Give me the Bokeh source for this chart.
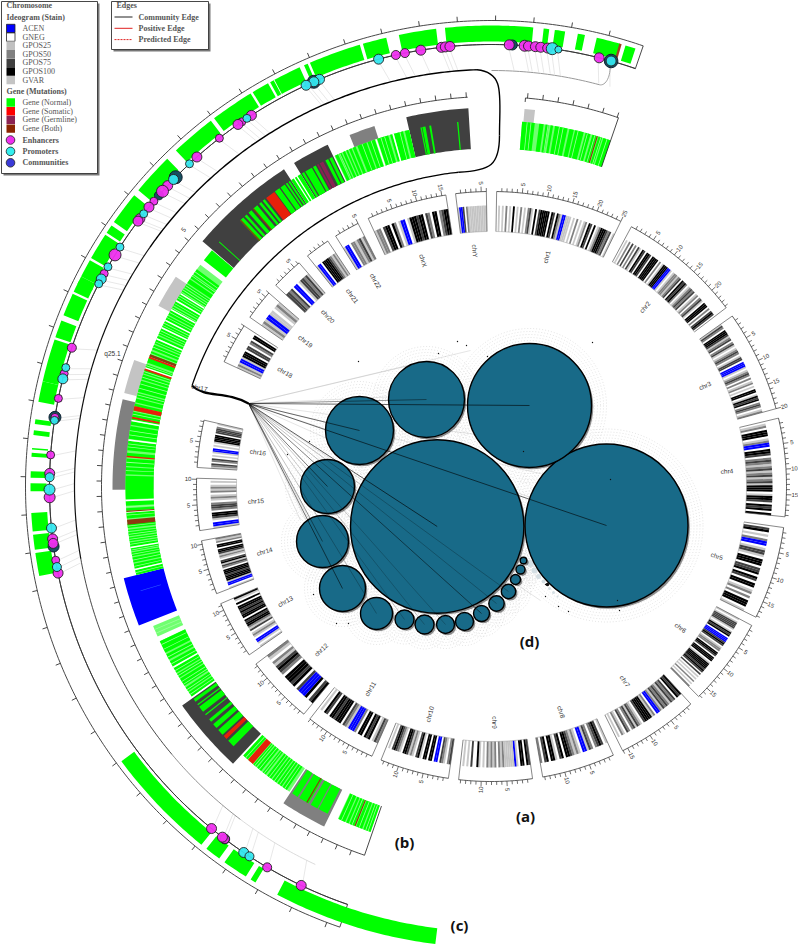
import numpy as np
from bokeh.plotting import figure
from bokeh.models import Range1d
from bokeh.core.properties import value
from bokeh.embed import file_html
from bokeh.resources import INLINE

# ---------- data ----------
chrom_names = ["chr1","chr2","chr3","chr4","chr5","chr6","chr7","chr8","chr9","chr10","chr11","chr12",
               "chr13","chr14","chr15","chr16","chr18","chr19","chr20","chr21","chr22","chrX","chrY"]
chrom_start = [1,28.3,54.7,76.6,98,118.1,137.5,155.6,172,188.4,203.9,219.5,235.2,248.7,261.4,273.7,295,305,313,321.4,328.1,335.3,353]
chrom_end = [26,52.7,74.7,95.9,116.3,135.4,153.6,170,186.4,202,218,233,246.6,259.4,271.6,283,303,311,319.3,326.3,333.1,351.1,359]
chrom_stains = [
 "wlwlwmwlwkwlwmwlwmdlwkwdkkkkkwkdwkmlbbvvlwlwmwlwlmwkdwkwlmkkkdmdwl",
 "wlwmwdwmwdlwkdwkkdwkkkkwmwlkkkbblwlmmlmdwkdkmwlmdmdwlmwmdlwkkkwmwdkdw",
 "ldmwkkkdlmdwmdlwlmdmwlddwbbblwlmdmwmwlmwlwkkwlkdkwmdmwlm",
 "wlmwkkkwlmbbwkkdwmdmlmdlmdlmdlkkkwlkkdwkdkwk",
 "wdkwlwmbbwlddlwkkkwddkwkdwkkwlmwmwkkkwl",
 "lwlddddlwlkdkwbbbdkdwlmmwkkdwkkkwlkkkkdkdwdwlwlwmwlwm",
 "kdkwdmdlmdmdlmbbwmlkkkkdwlmdldmwmdwlmwlw",
 "lwdkdmwmdlbbwlmlmdkkwkdwlkkwkdwm",
 "dkwkkwlbvvvvvmlmwmlmlmwlwlkwwdwlwlw",
 "dmwlmdwbbwkkwkkwlkdwlmldkkwlmdkdwlw",
 "mdlwkdkwkkwmbbblmdwkkkdkkwdkwlw",
 "kdwkbbbdwkdkkkwmdkdlmwlm",
 "lwlbbwlmlwdlmkkdkwkkdkdkkwkwlk",
 "lwbblkkkdkkkwmdlkdwlmldkkwkkwmlm",
 "lbbwldkkwmddmwlmlwmlmlwlw",
 "lmdwmdwlwlbbwlwlkkkkwdddmwl",
 "lmlbblkkkwddwmdwkkw",
 "lmlbbllwlml",
 "ddmdwbbwlddmdl",
 "lbbwkkkkdmlml",
 "lbbwmmlmdlm",
 "lmmwdkkwkmwlbbwlkkkdkkwdmwkkwmdkk",
 "lbbdwmlvvvvvvvvvv",
]
stain_colors = {"l":"#c8c8c8","m":"#808080","d":"#404040","k":"#000000","b":"#0000ff","v":"#c4c4c4"}

band_b_start = [5,-3.5,-18,-25.6,-33.2,-56.4,-70.5,-76.7,-104,-125.3,-146.7]
band_b_end = [6.6,-13,-22,-31.4,-49.7,-61.5,-75.7,-90.5,-111.5,-137,-153.8]
band_b_color = ["#c4c4c4","#404040","#808080","#404040","#404040","#c4c4c4","#c4c4c4","#808080","#0000ff","#404040","#808080"]

pale_start = [4.8,-13,-52.7,-112.4,-115,-137.3,-155.2]
pale_end = [19,-25.4,-103.9,-114.2,-125,-146.5,-160.7]

gene_b_start = [4.8,7.5,8.5,9.3,10,12.3,13.2,14.9,16,17,17.8,-5.2,-9.5,-10.4,-11,-13,-14,-15.7,-16.4,-18.6,-20,-21.8,-22.5,-23.1,-23.6,-24.2,-24.8,
 -25.8,-26.5,-28.7,-29.4,-30.8,-31.4,-32.2,-32.7,-33.4,-33.9,-34.4,-35.4,-38.3,-39,-39.8,-41,-42,-42.7,-48,-49.8,
 -53.6,-54.7,-55.5,-56.4,-57.2,-58,-59.6,-60.5,-61.2,-62.2,-63.1,-64.4,-65.7,-66.3,-67.2,-68.3,-68.8,-69.4,-70.5,-71.3,-72.2,-73.2,-75.2,-76.1,-76.9,-78.2,-79.7,-80.5,-82.8,-84.7,-85.6,-87,-88.3,-92.3,-93.4,-94.1,-95.9,-96.8,-97.2,-98,-98.8,-99.7,-100.4,-101.2,-102.2,-103.2,
 -115,-117.3,-118.5,-119.7,-120.8,-121.7,-123.3,-124.2,-125.5,-126.5,-127,-128.5,-129.5,-130.5,-131.7,-134,-137.3,-139.4,-140.2,-141.3,-142.2,-143.2,-144.2,-145.2,-147,-148.3,-150.4,-151.8,-155.3,-156.6,-157.2,-158.3,-159.5]
gene_b_end = [6.8,8.2,9,9.7,12,13,14.6,15.7,16.7,17.6,19,-5.4,-9.8,-10.9,-11.2,-13.7,-15.5,-16.1,-18.2,-19.8,-21.5,-22.3,-22.9,-23.4,-24,-24.6,-25.3,
 -26.3,-27,-29.2,-30.6,-31.2,-32,-32.5,-33.2,-33.7,-34.2,-35.2,-36.3,-38.7,-39.4,-40.6,-41.6,-42.4,-43.4,-48.15,-51.8,
 -54.5,-55.3,-56.2,-57,-57.8,-59.4,-60.3,-61,-62,-62.9,-64.2,-65.5,-66.1,-67,-68,-68.6,-69.2,-70.2,-71,-72,-73,-75,-75.9,-76.7,-78,-79.5,-80.3,-82.5,-84.3,-85.3,-86.8,-88.1,-92,-93,-93.8,-95,-96.5,-97,-97.8,-98.6,-99.5,-100.2,-101,-102,-103,-104,
 -117,-118.2,-119.5,-120.6,-121.5,-123,-124,-125,-126,-126.7,-128,-128.7,-130,-131.3,-132.7,-135.2,-138.2,-140,-141,-141.9,-143,-144,-145,-146,-148,-150,-151.6,-153.4,-156.4,-157,-158,-159.3,-160.7]

white_b = [-15.6,-18.4,-52.2,-58.2,-59.5,-61.1,-63,-64.3,-66.2,-69.3,-71.1,-79.6,-82.7,-92.2,-94,-95.7,-99.6,-103.1,-114.6,-119.6,-154.5]
fine_b = [5.6,6.2,8.9,10.7,11.3,13.7,15.2,16.4,17.4,18.4,-14.5,-17,-17.6,-19.2,-20.7,-24.5,-54.1,-54.9,-56.7,-57.5,-58.6,-59,-60,-60.8,-61.6,-62.5,-63.5,-63.9,-64.8,-65.2,-66.7,-67.6,-70.7,-71.7,-72.6,-73.7,-74.4,-75.5,-77.4,-78.6,-79.1,-81.2,-81.9,-83.3,-83.8,-86.2,-87.5,-93.2,-94.5,-96.2,-97.5,-98.3,-99.1,-100,-100.7,-101.6,-102.6,-103.6,-113,-113.6,-115.6,-116.4,-117.8,-119,-120.2,-121.1,-122.2,-122.7,-123.7,-124.6,-137.8,-139.7,-140.6,-141.6,-142.6,-143.6,-144.6,-145.6,-155.8,-157.6,-158.8,-159.9,-160.3]
somatic_b_start = [-36.4,-71.2,-77.3,-79,-85.2,-133,-138.3,-69.2]
somatic_b_end = [-38,-71.5,-78,-79.3,-85.4,-133.6,-139.3,-69.5]
both_b_start = [16.7,-43.2,-68.8,-93.8,-95.2,-149.6,-158,-40.5]
both_b_end = [16.9,-43.4,-69.2,-94,-96,-149.8,-158.2,-40.7]
germ_b_start = [-27.4,-28.2]
germ_b_end = [-28,-28.5]

gene_c_start = [16.9,13.2,10.8,7.9,6.5,-5.8,-11.6,-13.2,-16.6,-23.5,-24.6,-28.2,-29,-31.5,-37.5,-44.7,-50.8,-55.5,-56.9,-60.6,-62.9,-63.6,-65.3,-68.9,-71.4,-76.8,-81.6,-83,-85.2,-85.8,-88.1,-89.6,-93.3,-96,-98.3,-126.6,-141.8,-144.6,-148.5,-152.3]
gene_c_end = [18.2,16.2,11.7,9.2,7.2,5.2,-6.9,-16.2,-23.2,-24,-28.1,-28.7,-31.2,-37,-43.2,-50,-55,-56.6,-60.3,-62.9,-63.9,-65,-68.2,-71.1,-76.8,-79.4,-82.2,-83.6,-85.4,-86.3,-88.9,-90.6,-95.6,-97.9,-101.2,-141,-143.8,-147.8,-149.2,-173]

enh_theta = [-12.5,-11.3,-9.2,-6.5,-6,-5.4,2.3,4.3,4.8,5.7,6.4,7.3,14.1,-24.4,-32.9,-34.4,-35,-38,-41.8,-47.1,-48.1,-49.8,-50.8,-52.7,-53.1,-58.4,-61.2,-71.7,-75.2,-78.5,-81,-85.9,-88.3,-91.4,-96.8,-97.4,-99.6,-101.3,-140.7,-142.9,-142.5,-149.5,-154.5]
enh_size = [4.5,4.5,5,5,5,5,5,5.5,5,5,5,5,5,4,5,4,5,4,5,5,6,4,5,5,5,6,4,4.5,4,4,4,4,5,5.5,5,5,4,5,5,4.5,5,4.5,5]
prom_theta = [7.9,8.7,15.7,-14.8,-22.9,-23.7,-24.8,-33.6,-43.1,-46,-51.9,-57.2,-60.2,-62,-62.7,-74.4,-75.9,-81.4,-88.8,-90.4,-95.4,-100.5,-145.9,-146.8]
prom_size = [6,3.5,5,5,5,5,5,4,4,5,4,4,4,5,4,4,5,4,4.5,5.5,5,4.5,5,4.5]
comm_theta = [2.7,15.7,-23.7,-45.6,-48.8,-81,-97.8,-142.9]
comm_size = [5,6.8,6.5,6.5,4.5,6,5.5,4.8]

comm_x = [606,436.7,529,426,359,327,322,342,376,404,424,445,464,481,496,508,515,520,523]
comm_y = [525,526,405,399,430,486,541,588,613,619,624,624,621,613,603,591,579,569,560]
comm_r = [81.5,86.7,62,38,34,27,26,23,16,9.5,9.5,9,9,8,7.7,7.2,5,4.5,3.3]
pale_x = [530,534,538,543,549,553,557]
pale_y = [563,570,576,581,588,592,596]
pale_r = [3.5,3,2.5,2,1.5,1.5,1]
dot_x = [545,592,438,358,309,287,313,336,389,348,545,487,617,619,523,466,457,610,558,568]
dot_y = [584,342,353,361,441,454,594,623,603,623,596,356,600,610,451,345,341,479,606,611]
link_target_x = [529,426,359,436.7,606,327,322,342,376,481,496,508,404,424,445]
link_target_y = [405,399,430,526,525,486,541,588,613,613,603,591,619,624,624]
link_alpha = [.85,.6,.8,.9,.85,.75,.6,.8,.35,.7,.35,.35,.3,.3,.3]
faint_x = [430,470,420,520,610,540,330,300,345,540,600]
faint_y = [360,350,395,440,490,500,560,520,600,600,560]

legend_stain_names = ["ACEN","GNEG","GPOS25","GPOS50","GPOS75","GPOS100","GVAR"]
legend_stain_cols = ["#0000ff","#ffffff","#c0c0c0","#808080","#404040","#000000","#c4c4c4"]
legend_gene_names = ["Gene (Normal)","Gene (Somatic)","Gene (Germline)","Gene (Both)"]
legend_gene_cols = ["#00ff00","#ff0000","#8b2252","#8b2500"]
legend_dot_names = ["Enhancers","Promoters","Communities"]
legend_dot_cols = ["#ee2fee","#33eeee","#3a3ad8"]
edge_names = ["Community Edge","Positive Edge","Predicted Edge"]
edge_cols = ["#222222","#e02020","#e02020"]
edge_dash = ["solid","solid","2 1"]

# ---------- geometry ----------
CX, CY = 491.0, 486.0
SERIF = value("Liberation Serif")
SANS = value("Liberation Sans")

def pol(r, t):
    a = np.radians(t)
    return CX + r*np.sin(a), CY - r*np.cos(a)

def sector(r0, r1, t0, t1):
    n = max(2, int(abs(t1-t0)/0.5)+2)
    ts = np.linspace(t0, t1, n)
    x1, y1 = pol(r1, ts)
    x0, y0 = pol(r0, ts[::-1])
    return list(x1)+list(x0), list(y1)+list(y0)

def add_sectors(p, r0, r1, starts, ends, color, alpha=1.0):
    xs, ys = [], []
    for a, b in zip(starts, ends):
        x, y = sector(r0, r1, a, b)
        xs.append(x); ys.append(y)
    p.patches(xs, ys, fill_color=color, line_color=None, fill_alpha=alpha)

def arc(p, r, t0, t1, color="#333333", width=0.9, alpha=1.0):
    ts = np.linspace(t0, t1, max(2, int(abs(t1-t0)/0.5)+2))
    x, y = pol(r, ts)
    p.line(x, y, line_color=color, line_width=width, line_alpha=alpha)

def radial(p, t, r0, r1, color="#333333", width=0.9):
    x0, y0 = pol(r0, t); x1, y1 = pol(r1, t)
    p.line([x0, x1], [y0, y1], line_color=color, line_width=width)

def text_angle(t):
    t = t % 360
    return np.radians(90-t) if t < 180 else np.radians(270-t)

p = figure(x_range=Range1d(0, 798), y_range=Range1d(946, 0), width=798, height=946,
           output_backend="svg", toolbar_location=None, min_border=0)
p.axis.visible = False
p.grid.visible = False
p.outline_line_color = None
p.background_fill_color = "white"

# ---------- (c) outer track: links first ----------
for t in enh_theta + prom_theta:
    x0, y0 = pol(438, t); x1, y1 = pol(417, t + 0.8)
    p.line([x0, x1], [y0, y1], line_color="#d8d8d8", line_width=0.6)

arc(p, 417, -2, -55, "#000000", 1.4)
arc(p, 417, -55, -100, "#111111", 1.2)
arc(p, 417, -100, -130, "#333333", 0.9)
arc(p, 417, -130, -143, "#777777", 0.8)
arc(p, 417, -143, -155, "#cccccc", 0.7)
arc(p, 416, 0, 15, "#999999", 1.0)
xa, ya = pol(416, 15)
xb, yb = pol(438, 15.7)
p.bezier(x0=[xa], y0=[ya], x1=[xb], y1=[yb], cx0=[xa+7], cy0=[ya+2], cx1=[xb+1], cy1=[yb+10],
         line_color="#999999", line_width=0.9)
x0, y0 = pol(417, -2)
p.bezier(x0=[x0], y0=[y0], x1=[499], y1=[135], cx0=[505], cy0=[72], cx1=[499], cy1=[95],
         line_color="#000000", line_width=1.4)
x2, y2 = pol(316, -6)
p.bezier(x0=[499], y0=[135], x1=[x2], y1=[y2], cx0=[499], cy0=[165], cx1=[490], cy1=[170],
         line_color="#000000", line_width=1.4)
arc(p, 316, -6, -71.4, "#000000", 1.3)
x3, y3 = pol(316, -71.4)
p.bezier(x0=[x3], y0=[y3], x1=[248], y1=[403], cx0=[205], cy0=[398], cx1=[225], cy1=[390],
         line_color="#000000", line_width=2.2)

arc(p, 466, 19, -161)
arc(p, 442, 19, -161)
radial(p, 19, 442, 466)
radial(p, -161, 442, 466)
for k in range(-37, 2):
    t = 14.6 + 4.7*k
    if -161 < t < 19:
        radial(p, t, 466, 471)

add_sectors(p, 445, 461, gene_c_start, gene_c_end, "#00ff00")
add_sectors(p, 445, 461, [16.1], [16.4], "#a04020")
arc(p, 442, 19, -161)

x, y = pol(442, np.array(comm_theta))
p.circle(x, y, radius=comm_size, fill_color="#16505f", line_color="#102030", line_width=1)
x, y = pol(442, np.array(enh_theta))
p.circle(x, y, radius=enh_size, fill_color="#ee2fee", line_color="#222222", line_width=0.9, fill_alpha=0.95)
x, y = pol(442, np.array(prom_theta))
p.circle(x, y, radius=prom_size, fill_color="#33e6ee", line_color="#222222", line_width=0.9, fill_alpha=0.95)

# ---------- (b) chr17 track ----------
for a, b, c in zip(band_b_start, band_b_end, band_b_color):
    add_sectors(p, 338, 379, [a], [b], c)
add_sectors(p, 338, 366, pale_start, pale_end, "#70ff70")
add_sectors(p, 338, 366, gene_b_start, gene_b_end, "#00ff00")
add_sectors(p, 338, 366, [w - 0.06 for w in fine_b], [w + 0.06 for w in fine_b], "#a0ffa0")
add_sectors(p, 338, 366, [w - 0.12 for w in white_b], [w + 0.12 for w in white_b], "#ffffff")
add_sectors(p, 338, 366, somatic_b_start, somatic_b_end, "#e8200a")
add_sectors(p, 338, 366, both_b_start, both_b_end, "#8b3a10")
add_sectors(p, 338, 366, germ_b_start, germ_b_end, "#8b2252")
add_sectors(p, 345, 366, [-106.5], [-106.6], "#3060ff")

arc(p, 390, 19, 5)
arc(p, 390, -3.5, -161)
radial(p, 19, 338, 390)
radial(p, -161, 338, 390)
radial(p, 5, 386, 390)
for k in range(-73, 7):
    t = 5.3 + 2.25*k
    if -161 < t < -3.5 or 5 < t < 19:
        radial(p, t, 390, 395)
p.text([112], [353], text=["q25.1"], text_font=SANS, text_font_size="6.5px", text_color="#333333",
       text_align="center", text_baseline="middle")
p.text([183], [229], text=["5"], text_font=SANS, text_font_size="6.5px", text_color="#333333",
       text_align="center", text_baseline="middle", angle=[np.radians(52)])

# ---------- (a) ideogram ----------
for name, t0, t1, st in zip(chrom_names, chrom_start, chrom_end, chrom_stains):
    edges = np.linspace(t0, t1, len(st)+1)
    for code, col in stain_colors.items():
        sa = [edges[i] for i, c in enumerate(st) if c == code]
        sb = [edges[i+1] for i, c in enumerate(st) if c == code]
        if sa:
            add_sectors(p, 255, 281, sa, sb, col)
    arc(p, 295, t0, t1, "#333333", 0.8)
    radial(p, t0, 255, 295, "#555555", 0.7)
    radial(p, t1, 255, 295, "#555555", 0.7)
    arc(p, 255, t0, t1, "#999999", 0.5)
    n = int(t1 - t0)
    for k in range(1, n+1):
        t = t0 + k
        major = k % 5 == 0
        radial(p, t, 295, 300 if major else 298.5, "#333333", 0.7)
        if major:
            xl, yl = pol(303.5, t)
            p.text([xl], [yl], text=[str(k)], text_font=SANS, text_font_size="6px", text_color="#333333",
                   text_align="center", text_baseline="middle", angle=[text_angle(t)])
    xl, yl = pol(236, (t0+t1)/2)
    p.text([xl], [yl], text=[name], text_font=SANS, text_font_size="6.5px", text_color="#333333",
           text_align="center", text_baseline="middle", angle=[text_angle((t0+t1)/2)])

p.text([199], [387], text=["chr17"], text_font=SANS, text_font_size="6.5px", text_color="#333333",
       text_align="center", text_baseline="middle", angle=[np.radians(-12)])

# ---------- (d) community packing ----------
for extra in (3, 6, 9, 12, 15):
    p.circle(comm_x, comm_y, radius=[r + extra for r in comm_r], fill_color=None,
             line_color="#c4c4c4", line_width=0.5, line_dash="1 2")
p.circle(pale_x, pale_y, radius=pale_r, fill_color="#d5dfe4", line_color=None)
for tx, ty in zip(faint_x, faint_y):
    p.line([248, tx], [403, ty], line_color="#999999", line_width=0.5, line_alpha=0.5)
p.circle([x + 1.8 for x in comm_x], [y + 1.8 for y in comm_y], radius=comm_r,
         fill_color="#000000", fill_alpha=0.45, line_color=None)
p.circle(comm_x, comm_y, radius=comm_r, fill_color="#186a88", line_color="#000000", line_width=1.4)
for tx, ty, al in zip(link_target_x, link_target_y, link_alpha):
    p.line([248, tx], [403, ty], line_color="#000000", line_width=0.7, line_alpha=al)
p.circle(dot_x, dot_y, radius=0.7, fill_color="#111111", line_color=None)
p.circle([547], [584], radius=1.8, fill_color="#111111", line_color=None)

# ---------- panel letters ----------
p.text([525, 404, 459, 529], [815, 841, 924, 640], text=["(a)", "(b)", "(c)", "(d)"],
       text_font=value("Open Sans"), text_font_style="bold", text_font_size="15px", text_color="#111111",
       text_align="center", text_baseline="middle")

# ---------- legends ----------
def box(x0, y0, x1, y1):
    p.quad(left=[x0+2], right=[x1+2], top=[y0+2], bottom=[y1+2], fill_color="#555555", fill_alpha=0.8, line_color=None)
    p.quad(left=[x0], right=[x1], top=[y0], bottom=[y1], fill_color="white", line_color="#333333", line_width=0.9)

def ltext(x, y, s, bold=False, color="#555555"):
    p.text([x], [y], text=[s], text_font=SERIF, text_font_size="8px", text_color=color,
           text_font_style="bold" if bold else "normal", text_align="left", text_baseline="middle")

box(1, 1, 97, 173)
ltext(6, 5, "Chromosome", True)
ltext(6, 16.5, "Ideogram (Stain)", True)
for i, (n, c) in enumerate(zip(legend_stain_names, legend_stain_cols)):
    yy = 28 + i*8.6
    p.quad(left=[6], right=[14.5], top=[yy-4.2], bottom=[yy+4.2], fill_color=c, line_color="#222222" if c == "#ffffff" or c == "#0000ff" else None, line_width=0.8)
    ltext(22, yy, n)
ltext(6, 91, "Gene (Mutations)", True)
for i, (n, c) in enumerate(zip(legend_gene_names, legend_gene_cols)):
    yy = 102 + i*8.7
    p.quad(left=[6], right=[14.5], top=[yy-4.2], bottom=[yy+4.2], fill_color=c, line_color=None)
    ltext(22, yy, n)
for i, (n, c) in enumerate(zip(legend_dot_names, legend_dot_cols)):
    yy = 139.5 + i*11.4
    p.circle([10], [yy], radius=4.3, fill_color=c, line_color="#222222", line_width=0.8)
    ltext(22, yy, n, True)

box(111, 1, 208, 49)
ltext(116, 5, "Edges", True)
for i, (n, c, d) in enumerate(zip(edge_names, edge_cols, edge_dash)):
    yy = 16.5 + i*11.3
    p.line([114, 132], [yy, yy], line_color=c, line_width=1, line_dash=d)
    ltext(138, yy, n, True)

open("out.html", "w").write(file_html(p, INLINE))
